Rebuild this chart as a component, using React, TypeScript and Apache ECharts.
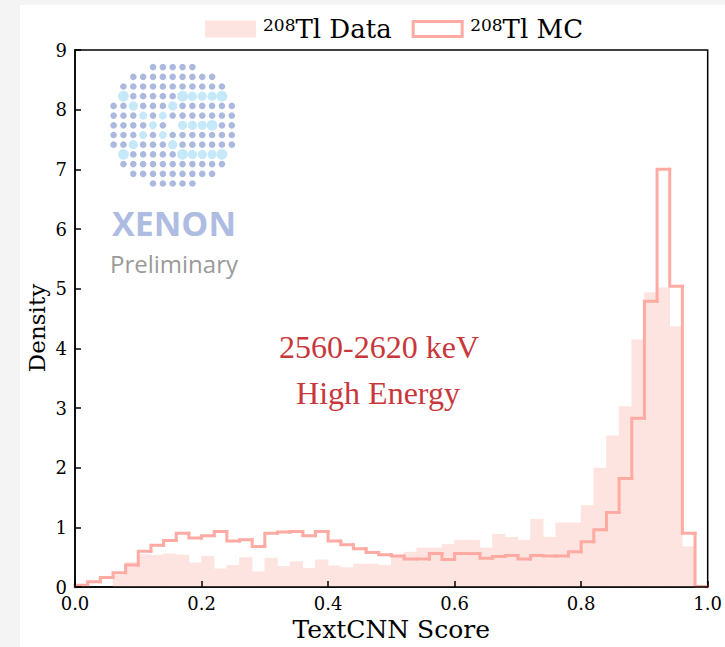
import React, { useEffect, useRef } from "react";
import * as echarts from "echarts";

// Histogram binning: 50 bins of width 0.02 on the TextCNN score axis
const BIN_WIDTH = 0.02;
const N_BINS = 50;
const binEdges: number[] = Array.from({ length: N_BINS + 1 }, (_, i) => +(i * BIN_WIDTH).toFixed(2));

// Normalised densities per bin
const dataDensity: number[] = [
  0.0, 0.0, 0.0, 0.2, 0.42, 0.55, 0.54, 0.56, 0.54, 0.41,
  0.52, 0.31, 0.37, 0.5, 0.26, 0.49, 0.35, 0.43, 0.32, 0.46,
  0.36, 0.33, 0.39, 0.39, 0.37, 0.53, 0.59, 0.66, 0.66, 0.72,
  0.79, 0.79, 0.66, 0.89, 0.84, 0.79, 1.14, 0.84, 1.08, 1.08,
  1.37, 2.0, 2.54, 3.03, 4.15, 4.94, 5.02, 4.37, 0.68, 0.0,
];

const mcDensity: number[] = [
  0.03, 0.09, 0.16, 0.24, 0.37, 0.6, 0.7, 0.78, 0.9, 0.82,
  0.86, 0.93, 0.77, 0.79, 0.68, 0.9, 0.92, 0.93, 0.86, 0.93,
  0.77, 0.71, 0.64, 0.58, 0.54, 0.52, 0.47, 0.47, 0.56, 0.46,
  0.56, 0.56, 0.48, 0.51, 0.53, 0.47, 0.53, 0.52, 0.52, 0.59,
  0.76, 0.96, 1.25, 1.82, 2.83, 4.79, 7.0, 5.04, 0.9, 0.01,
];

const seriesNames = ["208Tl Data", "208Tl MC"];
const xTickLabels = ["0.0", "0.2", "0.4", "0.6", "0.8", "1.0"];
const yTickLabels = ["0", "1", "2", "3", "4", "5", "6", "7", "8", "9"];
const annotationLines = ["2560-2620 keV", "High Energy"];

const DATA_FILL = "#fee4e0";
const MC_COLOR = "#ffaaa2";
const NOTE_COLOR = "#c8373b";
const SERIF = "DejaVu Serif";

// XENON logo: dot rows (column ranges on a 13x13 grid) and highlighted dots
const logoRowSpans: [number, number][] = [
  [4, 8], [2, 10], [1, 11], [1, 11], [0, 12], [0, 12], [0, 12],
  [0, 12], [0, 12], [1, 11], [1, 11], [2, 10], [4, 8],
];
const logoBig = ["3,1", "3,7", "3,11", "9,1", "9,7", "9,11", "6,10"];
const logoMid = ["3,8", "3,9", "3,10", "9,8", "9,9", "9,10", "4,2", "4,6", "8,2", "8,6", "6,7", "6,8", "6,9"];
const logoSmall = ["5,3", "5,5", "7,3", "7,5", "6,4"];
const logoHole = ["6,6"];

function buildLogo(): any[] {
  const cx = 172.7;
  const cy = 125.3;
  const dx = 9.85;
  const dy = 9.7;
  const out: any[] = [];
  logoRowSpans.forEach(([a, b], r) => {
    for (let c = a; c <= b; c++) {
      const key = `${r},${c}`;
      if (logoHole.includes(key)) continue;
      let rad = 3.3;
      let fill = "#abb9df";
      if (logoBig.includes(key)) { rad = 5.4; fill = "#c6e9fa"; }
      else if (logoMid.includes(key)) { rad = 4.6; fill = "#c6e9fa"; }
      else if (logoSmall.includes(key)) { rad = 4.0; fill = "#c6e9fa"; }
      out.push({
        type: "circle",
        shape: { cx: cx + (c - 6) * dx, cy: cy + (r - 6) * dy, r: rad },
        style: { fill },
        silent: true,
      });
    }
  });
  return out;
}

export default function App() {
  const ref = useRef<HTMLDivElement>(null);

  useEffect(() => {
    document.body.style.margin = "0";
    const chart = echarts.init(ref.current!, undefined, { renderer: "svg" });

    const dataItems = dataDensity.map((v, i) => [binEdges[i], binEdges[i + 1], v]);
    const mcItems = mcDensity.map((v, i) => [
      binEdges[i],
      binEdges[i + 1],
      v,
      i === 0 ? 0 : mcDensity[i - 1],
      i === N_BINS - 1 ? 1 : 0,
    ]);

    const legendLabel = (name: string) => {
      const rest = name.replace(/^208/, "");
      return `{sup|208}{main|${rest}}`;
    };

    chart.setOption({
      animation: false,
      backgroundColor: "#ffffff",
      grid: { left: 75, right: 15, top: 50, bottom: 58, show: true, borderColor: "#000", borderWidth: 1.5, backgroundColor: "transparent" },
      legend: {
        top: 16,
        left: 205,
        itemWidth: 49,
        itemHeight: 15,
        itemGap: 20,
        padding: 0,
        selectedMode: false,
        formatter: legendLabel,
        textStyle: {
          fontFamily: SERIF,
          color: "#000",
          padding: [0, 0, 0, 3],
          rich: {
            sup: { fontFamily: SERIF, fontSize: 17, color: "#000", verticalAlign: "top", lineHeight: 14 },
            main: { fontFamily: SERIF, fontSize: 26, color: "#000", lineHeight: 26 },
          },
        },
        data: [
          { name: seriesNames[0], icon: "rect", itemStyle: { color: DATA_FILL, borderColor: DATA_FILL, borderWidth: 2 } },
          { name: seriesNames[1], icon: "rect", itemStyle: { color: "#ffffff", borderColor: MC_COLOR, borderWidth: 3 } },
        ],
      },
      xAxis: {
        type: "value",
        min: 0,
        max: 1,
        interval: 0.2,
        z: 5,
        name: "TextCNN Score",
        nameLocation: "middle",
        nameGap: 30,
        nameTextStyle: { fontFamily: SERIF, fontSize: 25, color: "#000" },
        axisLine: { show: true, lineStyle: { color: "#000", width: 1.5 } },
        axisTick: { show: true, inside: true, length: 6, lineStyle: { color: "#000", width: 1.5 } },
        axisLabel: {
          margin: 7,
          fontFamily: SERIF,
          fontSize: 18,
          color: "#000",
          formatter: (v: number) => xTickLabels[Math.round(v / 0.2)] ?? "",
        },
        splitLine: { show: false },
      },
      yAxis: {
        type: "value",
        min: 0,
        max: 9,
        interval: 1,
        z: 5,
        axisLine: { show: true, lineStyle: { color: "#000", width: 1.5 } },
        axisTick: { show: true, inside: true, length: 6, lineStyle: { color: "#000", width: 1.5 } },
        axisLabel: {
          margin: 8,
          fontFamily: SERIF,
          fontSize: 18,
          color: "#000",
          formatter: (v: number) => yTickLabels[Math.round(v)] ?? "",
        },
        splitLine: { show: false },
      },
      series: [
        {
          name: seriesNames[0],
          type: "custom",
          z: 2,
          itemStyle: { color: DATA_FILL },
          encode: { x: [0, 1], y: 2 },
          data: dataItems,
          renderItem: (_p: any, api: any) => {
            const top = api.coord([api.value(0), api.value(2)]);
            const base = api.coord([api.value(1), 0]);
            return {
              type: "rect",
              shape: { x: top[0] - 0.3, y: top[1], width: base[0] - top[0] + 0.6, height: base[1] - top[1] },
              style: { fill: DATA_FILL },
            };
          },
        },
        {
          name: seriesNames[1],
          type: "custom",
          z: 3,
          itemStyle: { color: MC_COLOR },
          encode: { x: [0, 1], y: 2 },
          data: mcItems,
          renderItem: (_p: any, api: any) => {
            const x0 = api.value(0);
            const x1 = api.value(1);
            const v = api.value(2);
            const prev = api.value(3);
            const pts = [api.coord([x0, prev]), api.coord([x0, v]), api.coord([x1, v])];
            if (api.value(4) === 1) pts.push(api.coord([x1, 0]));
            return {
              type: "polyline",
              shape: { points: pts },
              style: { stroke: MC_COLOR, lineWidth: 3, fill: "none", lineCap: "square", lineJoin: "miter" },
            };
          },
        },
      ],
      graphic: [
        { type: "rect", shape: { x: 0, y: 0, width: 20, height: 647 }, style: { fill: "#f4f4f4" }, silent: true, z: -10 },
        { type: "rect", shape: { x: 0, y: 0, width: 725, height: 5 }, style: { fill: "#f4f4f4" }, silent: true, z: -10 },
        ...buildLogo(),
        {
          type: "text",
          x: 37,
          y: 328,
          rotation: Math.PI / 2,
          style: { text: "Density", fontFamily: SERIF, fontSize: 23, fill: "#000", align: "center", verticalAlign: "middle" },
          silent: true,
        },
        {
          type: "text",
          x: 174,
          y: 223,
          style: { text: "XENON", fontFamily: "Open Sans", fontWeight: "bold", fontSize: 34, fill: "#aebce2", align: "center", verticalAlign: "middle" },
          silent: true,
        },
        {
          type: "text",
          x: 174,
          y: 263,
          style: { text: "Preliminary", fontFamily: "Open Sans", fontSize: 24, fill: "#9a9a9a", align: "center", verticalAlign: "middle" },
          silent: true,
        },
        {
          type: "text",
          x: 379,
          y: 347,
          style: { text: annotationLines[0], fontFamily: "Liberation Serif", fontSize: 32, fill: NOTE_COLOR, align: "center", verticalAlign: "middle" },
          silent: true,
        },
        {
          type: "text",
          x: 378,
          y: 393,
          style: { text: annotationLines[1], fontFamily: "Liberation Serif", fontSize: 32, fill: NOTE_COLOR, align: "center", verticalAlign: "middle" },
          silent: true,
        },
      ],
    });

    return () => chart.dispose();
  }, []);

  return (
    <div
      ref={ref}
      style={{ position: "absolute", left: 0, top: 0, width: 725, height: 647 }}
    />
  );
}
